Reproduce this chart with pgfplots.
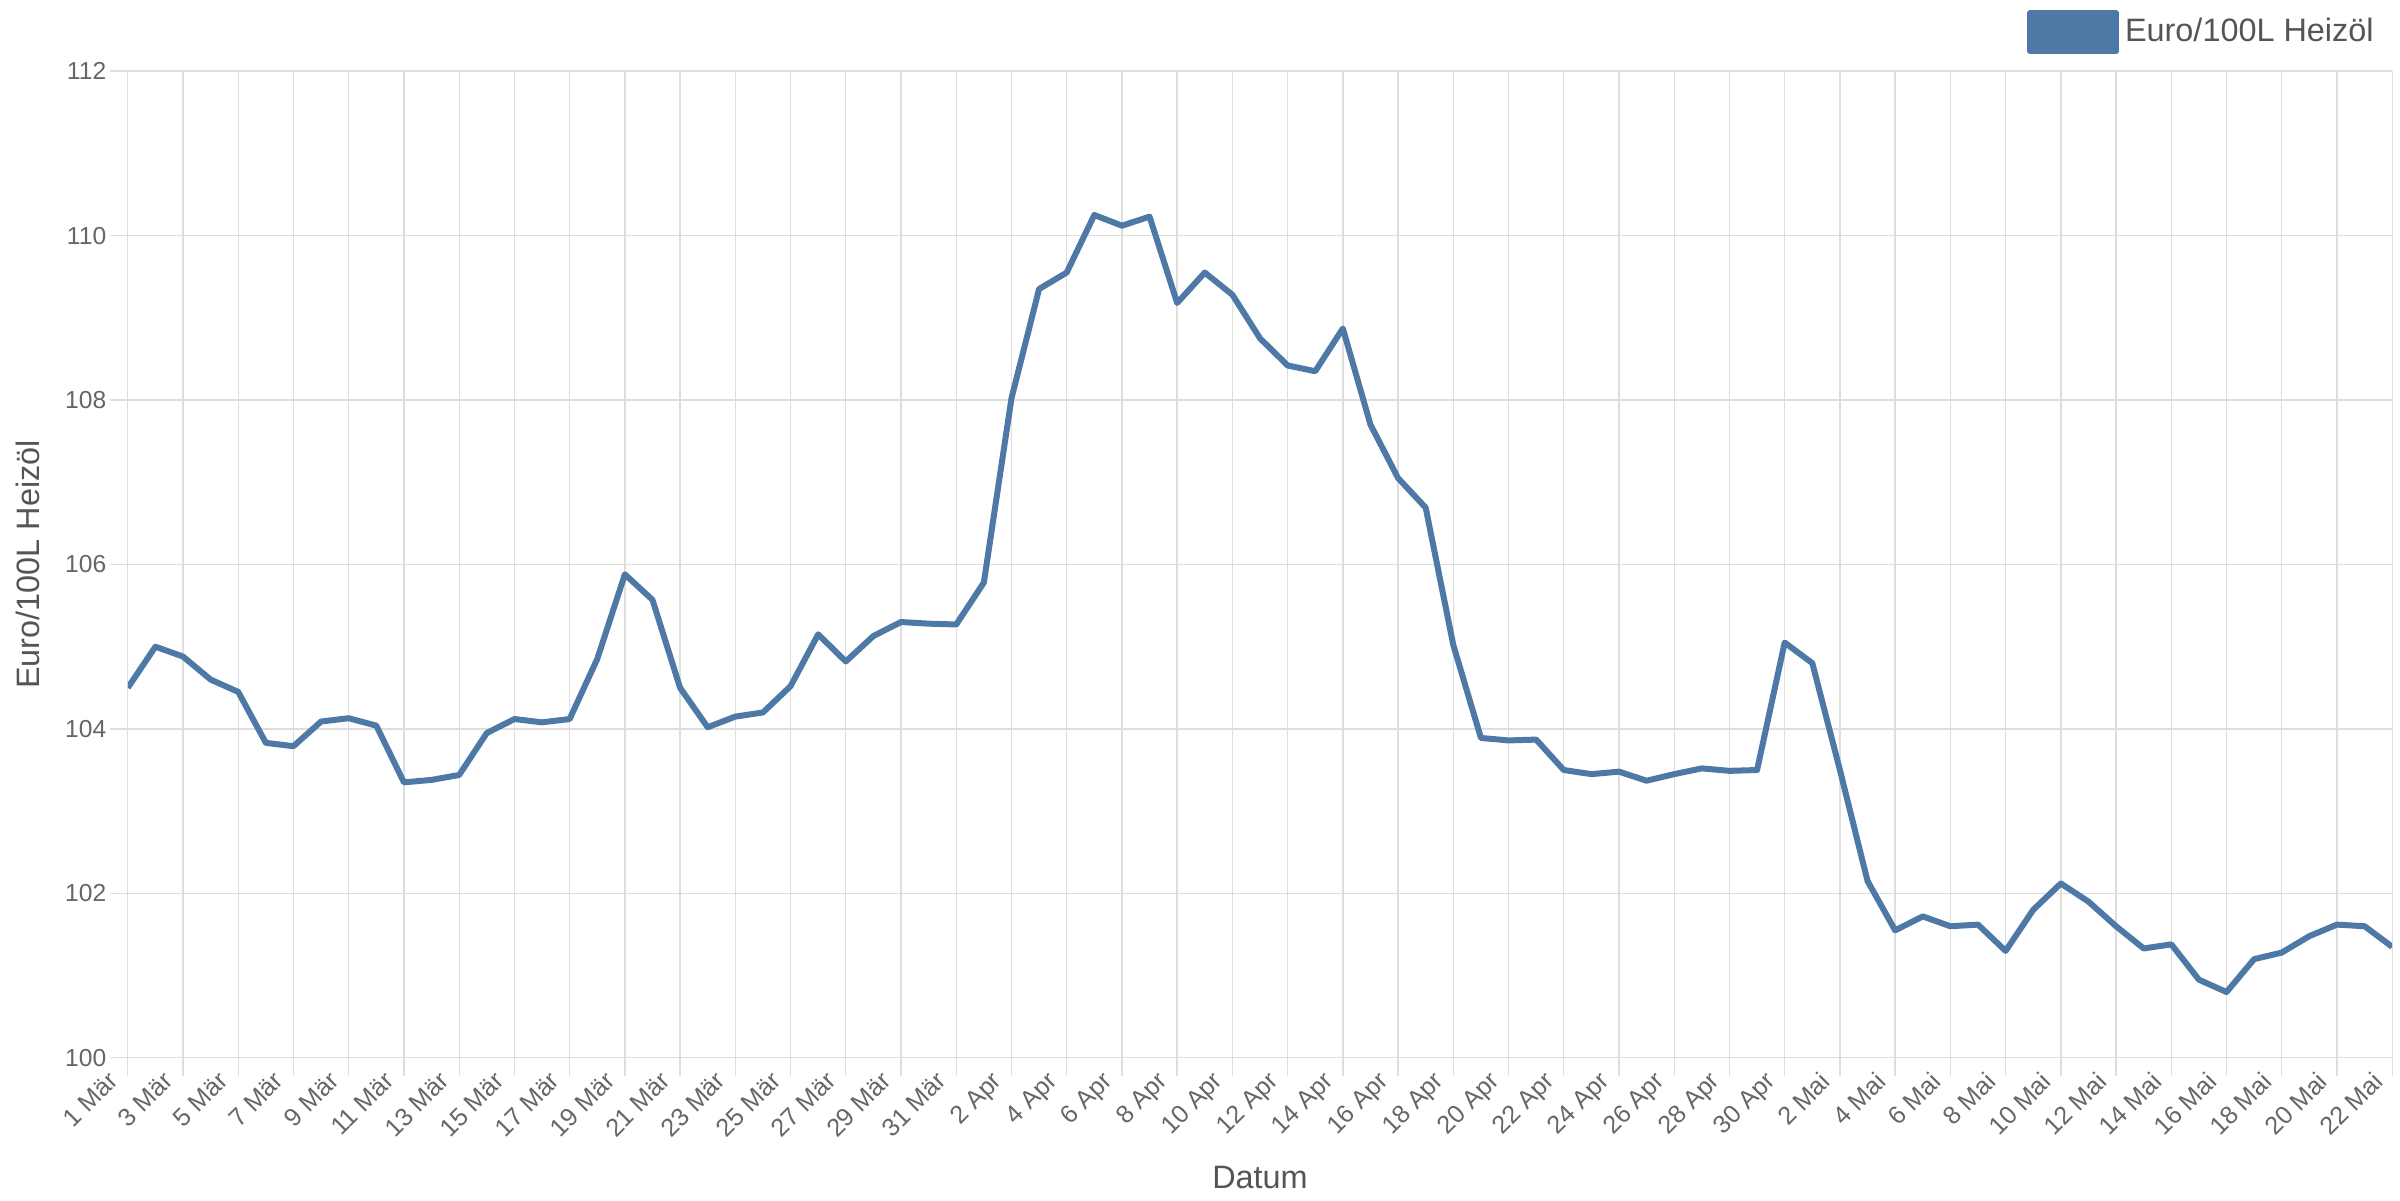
\documentclass[border=0pt]{standalone}
\usepackage{fontspec}
\setmainfont{Liberation Sans}
\usepackage{pgfplots}
\pgfplotsset{compat=1.18}
\definecolor{tabblue}{HTML}{4E79A7}
\definecolor{txtgray}{HTML}{666666}
\definecolor{lblgray}{HTML}{555555}
\definecolor{gridgray}{HTML}{DEDEDE}

% day index 0 = 1 Mär ... 82 = 22 Mai
\pgfplotstableread{
x y
0 104.50
1 105.00
2 104.88
3 104.60
4 104.45
5 103.83
6 103.79
7 104.09
8 104.13
9 104.04
10 103.35
11 103.38
12 103.44
13 103.95
14 104.12
15 104.08
16 104.12
17 104.85
18 105.88
19 105.57
20 104.50
21 104.02
22 104.15
23 104.20
24 104.52
25 105.15
26 104.82
27 105.13
28 105.30
29 105.28
30 105.27
31 105.78
32 108.02
33 109.35
34 109.55
35 110.25
36 110.12
37 110.23
38 109.18
39 109.55
40 109.28
41 108.75
42 108.42
43 108.35
44 108.87
45 107.70
46 107.05
47 106.69
48 105.02
49 103.89
50 103.86
51 103.87
52 103.50
53 103.45
54 103.48
55 103.37
56 103.45
57 103.52
58 103.49
59 103.50
60 105.05
61 104.80
62 103.50
63 102.15
64 101.55
65 101.72
66 101.60
67 101.62
68 101.30
69 101.80
70 102.12
71 101.90
72 101.60
73 101.33
74 101.38
75 100.95
76 100.80
77 101.20
78 101.28
79 101.48
80 101.62
81 101.60
82 101.35
}\heizoel

\begin{document}
\begin{tikzpicture}
\begin{axis}[
    scale only axis,
    width=754.8pt,
    height=328.9pt,
    xmin=0, xmax=82,
    ymin=100, ymax=112,
    xtick={0,2,...,82},
    xticklabels={1 Mär,3 Mär,5 Mär,7 Mär,9 Mär,11 Mär,13 Mär,15 Mär,17 Mär,19 Mär,21 Mär,23 Mär,25 Mär,27 Mär,29 Mär,31 Mär,
        2 Apr,4 Apr,6 Apr,8 Apr,10 Apr,12 Apr,14 Apr,16 Apr,18 Apr,20 Apr,22 Apr,24 Apr,26 Apr,28 Apr,30 Apr,
        2 Mai,4 Mai,6 Mai,8 Mai,10 Mai,12 Mai,14 Mai,16 Mai,18 Mai,20 Mai,22 Mai},
    ytick={100,102,...,112},
    /pgf/number format/assume math mode=true,
    axis line style={draw=none},
    xmajorgrids, ymajorgrids,
    major grid style={gridgray, line width=0.45pt},
    tick style={gridgray, line width=0.45pt},
    major tick length=6pt,
    tick align=outside,
    tick pos=left,
    yticklabel style={font=\fontsize{8.2}{10}\selectfont, color=txtgray, inner sep=1pt},
    xticklabel style={font=\fontsize{8.4}{10}\selectfont, color=txtgray, xshift=-7pt, yshift=3.5pt, rotate=45, anchor=north east, inner sep=1pt},
    ylabel={Euro/100L Heizöl},
    ylabel style={font=\fontsize{10.8}{13}\selectfont, color=lblgray, at={(axis description cs:-0.0441,0.5)}, anchor=center},
    xlabel={Datum},
    xlabel style={font=\fontsize{10.8}{13}\selectfont, color=lblgray, at={(axis description cs:0.5,-0.1216)}, anchor=center},
    legend style={at={(axis description cs:1,1)}, anchor=south east, draw=none, fill=none,
        font=\fontsize{10.8}{13}\selectfont, text=lblgray, inner sep=0pt, xshift=-4pt, yshift=5.4pt},
    legend image code/.code={\fill[tabblue] (0pt,-6.35pt) rectangle (28.7pt,6.35pt);},
]
\addplot[tabblue, line width=2pt, line join=round] table[x=x, y=y] {\heizoel};
\legend{Euro/100L Heizöl}
\end{axis}
\pgfresetboundingbox
\path[use as bounding box] (current axis.south west) ++(-42.6pt,-47.4pt) rectangle ++(800pt,400pt);
\end{tikzpicture}
\end{document}
